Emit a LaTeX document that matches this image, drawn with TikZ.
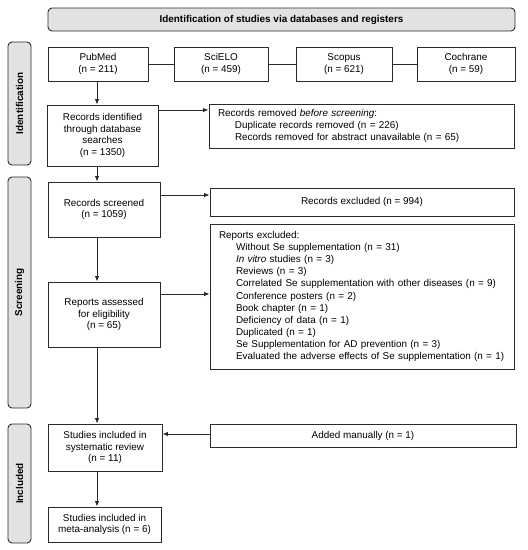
\documentclass[tikz,border=0pt]{standalone}
\usepackage{fontspec}
\setmainfont{Liberation Sans}
\usetikzlibrary{arrows.meta}
\definecolor{edge}{HTML}{2A2A2A}
\definecolor{barfill}{HTML}{E2E2E2}
\begin{document}
\begin{tikzpicture}[x=1pt,y=-1pt,
  box/.style={draw=edge, line width=0.9pt, fill=white, inner sep=0pt, align=center, font=\fontsize{9.9}{11.7}\selectfont},
  lbox/.style={draw=edge, line width=0.9pt, fill=white, inner xsep=9pt, inner ysep=0pt, align=left, font=\fontsize{9.9}{12.1}\selectfont},
  bar/.style={draw=edge, line width=0.9pt, fill=barfill, rounded corners=4pt, inner sep=0pt, rotate=90, font=\bfseries\fontsize{9.9}{11}\selectfont},
  arr/.style={draw=edge, line width=0.9pt, -{Latex[length=5.5pt,width=4.5pt]}},
  ln/.style={draw=edge, line width=0.9pt}]
\useasboundingbox (0,0) rectangle (528,550);
\node[draw=edge, line width=0.9pt, fill=barfill, rounded corners=4pt, minimum width=467pt, minimum height=23pt, inner sep=0pt, font=\bfseries\fontsize{9.9}{11}\selectfont] (title) at (281.5,19.5) {Identification of studies via databases and registers};
\node[bar, minimum width=123pt, minimum height=23pt] (idbar) at (19.5,103.5) {Identification};
\node[bar, minimum width=231pt, minimum height=23pt] (scbar) at (19.5,292.5) {Screening};
\node[bar, minimum width=119pt, minimum height=23pt] (inbar) at (19.5,483.5) {Included};
\node[box, minimum width=100pt, minimum height=34pt] (pubmed) at (98,64) {PubMed\\(n = 211)};
\node[box, minimum width=94pt, minimum height=34pt] (scielo) at (221,64) {SciELO\\(n = 459)};
\node[box, minimum width=96pt, minimum height=34pt] (scopus) at (344,64) {Scopus\\(n = 621)};
\node[box, minimum width=98pt, minimum height=34pt] (cochrane) at (466,64) {Cochrane\\(n = 59)};
\node[box, minimum width=111pt, minimum height=61pt] (recid) at (102.5,135.5) {Records identified\\through database\\searches\\(n = 1350)};
\node[lbox, text width=287pt, minimum height=44pt] (removed) at (361.5,126) {Records removed \emph{before screening}:\\
\hspace*{17pt}Duplicate records removed (n = 226)\\
\hspace*{17pt}Records removed for abstract unavailable (n = 65)};
\node[box, minimum width=112pt, minimum height=55pt] (screened) at (104,209.5) {Records screened\\(n = 1059)};
\node[box, minimum width=304pt, minimum height=28pt] (excl) at (362,202) {Records excluded (n = 994)};
\node[lbox, text width=286pt, minimum height=145pt] (repexcl) at (362,296.5) {Reports excluded:\\
\hspace*{17pt}Without Se supplementation (n = 31)\\
\hspace*{17pt}\emph{In vitro} studies (n = 3)\\
\hspace*{17pt}Reviews (n = 3)\\
\hspace*{17pt}Correlated Se supplementation with other diseases (n = 9)\\
\hspace*{17pt}Conference posters (n = 2)\\
\hspace*{17pt}Book chapter (n = 1)\\
\hspace*{17pt}Deficiency of data (n = 1)\\
\hspace*{17pt}Duplicated (n = 1)\\
\hspace*{17pt}Se Supplementation for AD prevention (n = 3)\\
\hspace*{17pt}Evaluated the adverse effects of Se supplementation (n = 1)};
\node[box, minimum width=112pt, minimum height=65pt] (assessed) at (104,314.5) {Reports assessed\\for eligibility\\(n = 65)};
\node[box, minimum width=114pt, minimum height=47pt] (sysrev) at (105,447.5) {Studies included in\\systematic review\\(n = 11)};
\node[box, minimum width=306pt, minimum height=23pt] (added) at (363,435.5) {Added manually (n = 1)};
\node[box, minimum width=113pt, minimum height=35pt] (meta) at (104.5,524.5) {Studies included in\\meta-analysis (n = 6)};
\coordinate (sp) at (97,0);
\coordinate (h1) at (0,110);
\coordinate (h2) at (0,195);
\coordinate (h3) at (0,294);
\coordinate (h4) at (0,434);
\draw[ln] (pubmed) -- (scielo);
\draw[ln] (scielo) -- (scopus);
\draw[ln] (scopus) -- (cochrane);
\draw[arr] (pubmed.south -| sp) -- (recid.north -| sp);
\draw[arr] (recid.south -| sp) -- (screened.north -| sp);
\draw[arr] (screened.south -| sp) -- (assessed.north -| sp);
\draw[arr] (assessed.south -| sp) -- (sysrev.north -| sp);
\draw[arr] (sysrev.south -| sp) -- (meta.north -| sp);
\draw[arr] (recid.east |- h1) -- (removed.west |- h1);
\draw[arr] (screened.east |- h2) -- (excl.west |- h2);
\draw[arr] (assessed.east |- h3) -- (repexcl.west |- h3);
\draw[arr] (added.west |- h4) -- (sysrev.east |- h4);
\end{tikzpicture}
\end{document}
